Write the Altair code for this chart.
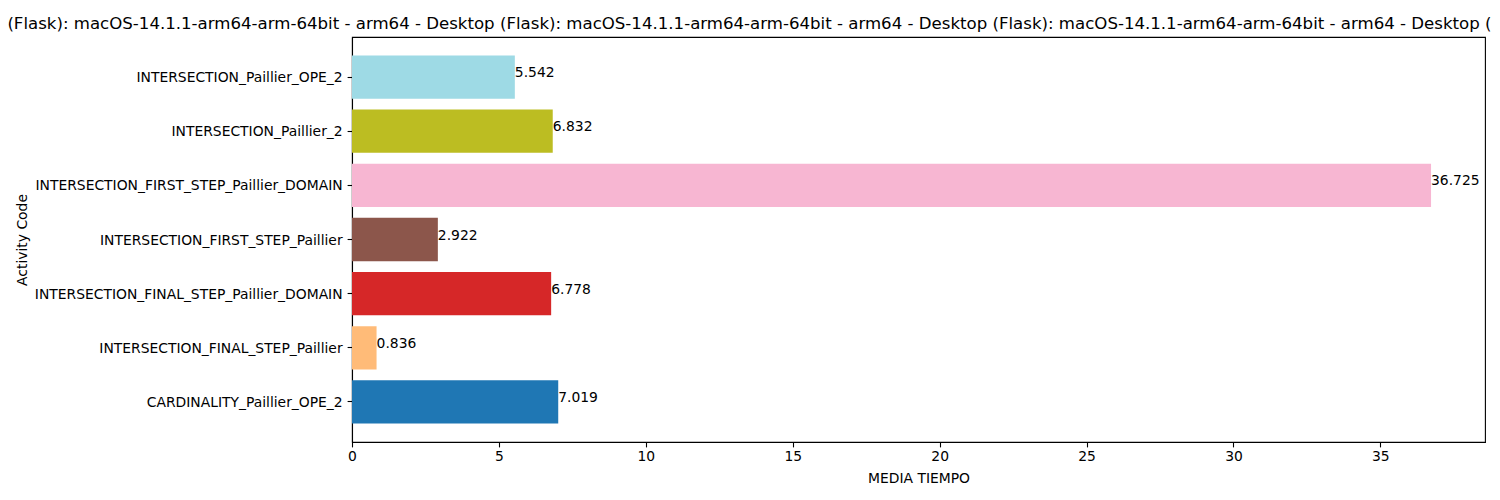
import altair as alt
import pandas as pd

# Data (top-to-bottom order as displayed)
codes = [
    "INTERSECTION_Paillier_OPE_2",
    "INTERSECTION_Paillier_2",
    "INTERSECTION_FIRST_STEP_Paillier_DOMAIN",
    "INTERSECTION_FIRST_STEP_Paillier",
    "INTERSECTION_FINAL_STEP_Paillier_DOMAIN",
    "INTERSECTION_FINAL_STEP_Paillier",
    "CARDINALITY_Paillier_OPE_2",
]
values = [5.542, 6.832, 36.725, 2.922, 6.778, 0.836, 7.019]
colors = ["#9edae5", "#bcbd22", "#f7b6d2", "#8c564b", "#d62728", "#ffbb78", "#1f77b4"]
x_ticks = [0, 5, 10, 15, 20, 25, 30, 35]

segment = "Desktop (Flask): macOS-14.1.1-arm64-arm-64bit - arm64"
title_text = " - ".join([segment] * 4)

df = pd.DataFrame({"code": codes, "value": values})

FONT = "DejaVu Sans"
FS = 13.89

y_enc = alt.Y(
    "code:N",
    sort=codes,
    scale=alt.Scale(paddingInner=0.2, paddingOuter=0.34),
    axis=alt.Axis(
        title="Activity Code",
        titleX=-326,
        titleBaseline="alphabetic",
        labelPadding=5,
        labelLimit=0,
        labelOffset=1,
    ),
)

x_enc = alt.X(
    "value:Q",
    scale=alt.Scale(domain=[0, 38.5613], nice=False, zero=True),
    axis=alt.Axis(
        title="MEDIA TIEMPO",
        values=x_ticks,
        titleY=40,
        titleBaseline="alphabetic",
        labelPadding=3,
        labelFlush=False,
    ),
)

bars = alt.Chart(df).mark_bar().encode(
    y=y_enc,
    x=x_enc,
    color=alt.Color("code:N", scale=alt.Scale(domain=codes, range=colors), legend=None),
)

labels = alt.Chart(df).mark_text(
    align="left", baseline="alphabetic", font=FONT, fontSize=FS, color="black"
).encode(
    y=alt.Y("code:N", sort=codes),
    x=alt.X("value:Q"),
    text=alt.Text("value:Q", format=".3f"),
)

chart = (
    alt.layer(bars, labels)
    .properties(
        width=1133,
        height=405,
        padding={"left": 344, "top": 29, "right": 7, "bottom": 46},
        autosize=alt.AutoSizeParams(type="none"),
        title=alt.TitleParams(
            text=title_text,
            anchor="middle",
            frame="group",
            font=FONT,
            fontSize=16.6,
            fontWeight="normal",
            color="black",
            baseline="alphabetic",
            offset=8,
            dy=17,
            dx=-8,
        ),
    )
    .configure_view(stroke="black", strokeWidth=1.1)
    .configure_axis(
        grid=False,
        domainColor="black",
        domainWidth=1.1,
        tickColor="black",
        tickWidth=1.1,
        tickSize=4.9,
        labelColor="black",
        labelFont=FONT,
        labelFontSize=FS,
        titleColor="black",
        titleFont=FONT,
        titleFontSize=FS,
        titleFontWeight="normal",
    )
)

chart.save("out.html", embed_options={"renderer": "svg", "actions": False})
